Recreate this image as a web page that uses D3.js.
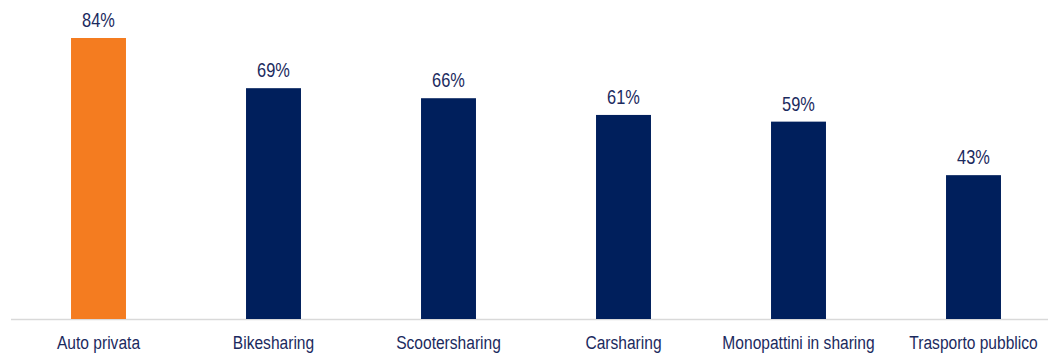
<!DOCTYPE html>
<html><head><meta charset="utf-8">
<script src="https://cdn.jsdelivr.net/npm/d3@7"></script>
<style>html,body{margin:0;padding:0;background:#fff;}</style>
</head><body>
<svg id="c" width="1051" height="354"></svg>
<script>
const categories = ["Auto privata","Bikesharing","Scootersharing","Carsharing","Monopattini in sharing","Trasporto pubblico"];
const values = [84,69,66,61,59,43];
const highlight = ["Auto privata"];

const svg = d3.select("#c");
const x = d3.scaleBand().domain(categories).range([11,1061]).paddingInner(0.686).paddingOuter(0.343);
const y = d3.scaleLinear().domain([0,84]).range([319,38]);
const navy = "#001f5c", orange = "#f47c20", textCol = "#1b2a5e";
const sx = 0.82;

svg.append("line").attr("x1",11).attr("x2",1048).attr("y1",319.5).attr("y2",319.5)
  .attr("stroke","#d9d9d9").attr("stroke-width",1.5);

const data = categories.map((c,i)=>({c, v: values[i]}));
svg.selectAll("rect.bar").data(data).join("rect").attr("class","bar")
  .attr("x",d=>x(d.c)).attr("width",x.bandwidth())
  .attr("y",d=>y(d.v)).attr("height",d=>y(0)-y(d.v))
  .attr("fill",d=>highlight.includes(d.c)?orange:navy);

svg.selectAll("text.val").data(data).join("text").attr("class","val")
  .attr("transform",d=>`translate(${x(d.c)+x.bandwidth()/2},${y(d.v)-11}) scale(${sx},1)`)
  .attr("text-anchor","middle").attr("font-family","Liberation Sans, Arial, sans-serif")
  .attr("font-size",20).attr("fill",textCol).text(d=>d.v+"%");

svg.selectAll("text.cat").data(data).join("text").attr("class","cat")
  .attr("transform",d=>`translate(${x(d.c)+x.bandwidth()/2},349) scale(${sx},1)`)
  .attr("text-anchor","middle").attr("font-family","Liberation Sans, Arial, sans-serif")
  .attr("font-size",19).attr("fill",textCol).text(d=>d.c);
</script>
</body></html>
